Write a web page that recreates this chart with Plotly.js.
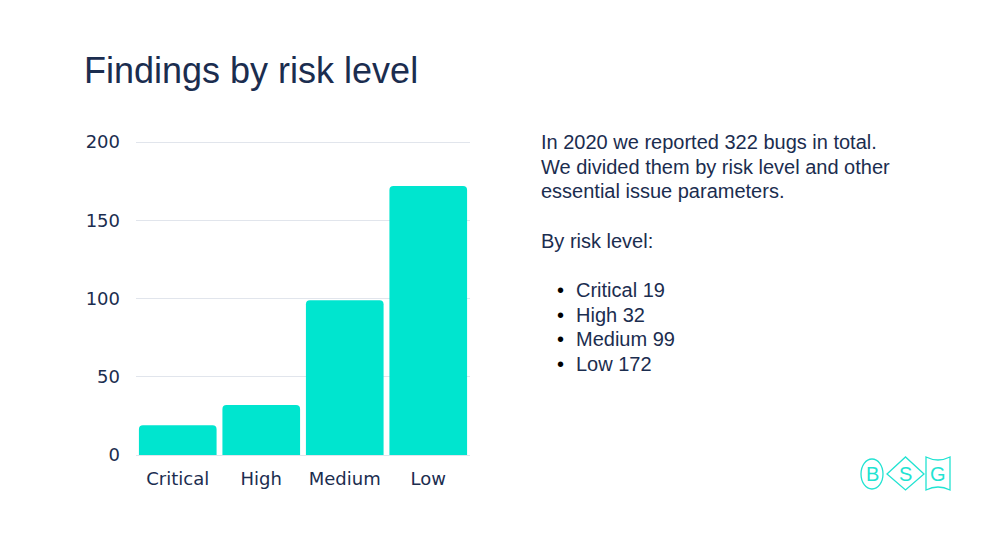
<!DOCTYPE html>
<html>
<head>
<meta charset="utf-8">
<script src="https://cdn.plot.ly/plotly-3.0.1.min.js"></script>
<style>
html,body{margin:0;padding:0;background:#fff;}
#chart{width:995px;height:558px;}
</style>
</head>
<body>
<div id="chart"></div>
<script>
const categories = ["Critical", "High", "Medium", "Low"];
const findings = [19, 32, 99, 172];
const yTicks = [0, 50, 100, 150, 200];
const totalBugs = 322;
const year = 2020;

const navy = "#1b2d4f";
const teal = "#00e5cf";

// plot area in pixels (y range 0..202 so the 200 gridline is drawn)
const PL = 136, PR = 470, PT = 139, PB = 455;
const W = 995, H = 558;
function fx(px) { return (px - PL) / (PR - PL); }
function fy(py) { return (PB - py) / (PB - PT); }

const trace = {
  type: "bar",
  x: categories,
  y: findings,
  marker: { color: teal, cornerradius: 4 },
  hoverinfo: "x+y"
};

const bodyFont = { family: "Liberation Sans, Arial, sans-serif", size: 20, color: navy };

const annotations = [
  { text: "In " + year + " we reported " + totalBugs + " bugs in total.", x: 539, y: 142 },
  { text: "We divided them by risk level and other", x: 539, y: 167 },
  { text: "essential issue parameters.", x: 539, y: 191 },
  { text: "By risk level:", x: 539, y: 241 }
].map(a => ({
  xref: "paper", yref: "paper",
  x: fx(a.x), y: fy(a.y),
  xanchor: "left", yanchor: "middle",
  text: a.text, showarrow: false, font: bodyFont
}));

categories.forEach((c, i) => {
  const yy = 290 + i * 24.5;
  annotations.push({
    xref: "paper", yref: "paper", x: fx(555), y: fy(yy),
    xanchor: "left", yanchor: "middle", text: "•", showarrow: false,
    font: { family: "Liberation Sans, Arial, sans-serif", size: 20, color: "#000" }
  });
  annotations.push({
    xref: "paper", yref: "paper", x: fx(574), y: fy(yy),
    xanchor: "left", yanchor: "middle", text: c + " " + findings[i], showarrow: false,
    font: bodyFont
  });
});

// logo letters
const logoFont = { family: "Liberation Sans, Arial, sans-serif", size: 20, color: "#22e3d2" };
[["B", 872], ["S", 905.5], ["G", 938]].forEach(([t, px]) => {
  annotations.push({
    xref: "paper", yref: "paper", x: fx(px), y: fy(474),
    xanchor: "center", yanchor: "middle", text: t, showarrow: false, font: logoFont
  });
});

function P(x, y) { return fx(x).toFixed(5) + "," + fy(y).toFixed(5); }
const logoLine = { color: "#22e3d2", width: 1.3 };
const shapes = [
  { type: "circle", xref: "paper", yref: "paper",
    x0: fx(861), x1: fx(883), y0: fy(489), y1: fy(459), line: logoLine },
  { type: "path", xref: "paper", yref: "paper",
    path: "M" + P(887, 474) + " L" + P(905.5, 457) + " L" + P(924, 474) + " L" + P(905.5, 490) + " Z",
    line: logoLine },
  { type: "path", xref: "paper", yref: "paper",
    path: "M" + P(926, 457) + " Q" + P(938, 463) + " " + P(950, 457) +
          " L" + P(950, 490) + " Q" + P(938, 484) + " " + P(926, 490) + " Z",
    line: logoLine }
];

const layout = {
  width: W, height: H,
  paper_bgcolor: "#fff", plot_bgcolor: "#fff",
  margin: { l: PL, r: W - PR, t: PT, b: H - PB },
  title: {
    text: "Findings by risk level",
    x: 84 / W, xanchor: "left", xref: "container",
    y: 1 - 70 / H, yanchor: "middle", yref: "container",
    font: { family: "Liberation Sans, Arial, sans-serif", size: 36, color: navy }
  },
  bargap: 0.07,
  showlegend: false,
  xaxis: {
    type: "category",
    showgrid: false, zeroline: false, showline: false,
    ticks: "", ticklabelstandoff: 11,
    tickfont: { family: "DejaVu Sans, Verdana, sans-serif", size: 18, color: navy },
    fixedrange: true
  },
  yaxis: {
    range: [0, 202],
    tickvals: yTicks,
    showgrid: true, gridcolor: "#e1e5ec", gridwidth: 1,
    zeroline: true, zerolinecolor: "#e1e5ec", zerolinewidth: 1,
    showline: false,
    ticks: "", ticklabelstandoff: 15,
    tickfont: { family: "DejaVu Sans, Verdana, sans-serif", size: 18, color: navy },
    fixedrange: true
  },
  annotations: annotations,
  shapes: shapes
};

Plotly.newPlot("chart", [trace], layout, { displayModeBar: false, staticPlot: true });
</script>
</body>
</html>
